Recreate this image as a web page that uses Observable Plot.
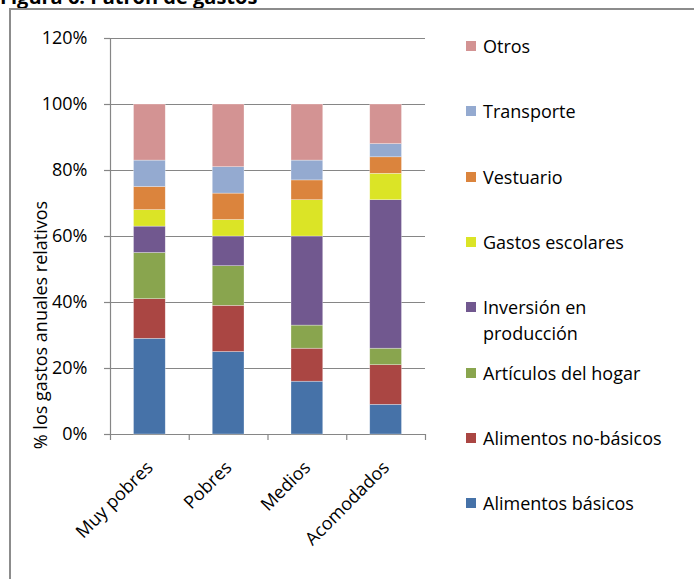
<!DOCTYPE html>
<html>
<head>
<meta charset="utf-8">
<script src="https://cdn.jsdelivr.net/npm/d3@7"></script>
<script src="https://cdn.jsdelivr.net/npm/@observablehq/plot@0.6"></script>
<style>
  html, body { margin: 0; padding: 0; background: #fff; overflow: hidden; }
  #wrap { position: relative; width: 694px; height: 579px; overflow: hidden; font-family: "Open Sans", sans-serif; color: #000; }
  #title { position: absolute; left: 0; top: -13px; font-weight: bold; font-size: 20px; line-height: 20px; white-space: nowrap; }
  #box { position: absolute; left: 9px; top: 8px; width: 720px; height: 620px; border: 2px solid #8c8c8c; box-sizing: border-box; }
  #chart { position: absolute; left: 0; top: 0; }
  #ylabel { position: absolute; left: 40px; top: 325px; transform: translate(-50%, -50%) rotate(-90deg); font-size: 18px; white-space: nowrap; }
  .leg { position: absolute; left: 466px; font-size: 18px; line-height: 26px; width: 200px; }
  .leg .sw { position: absolute; left: 0; top: 8px; width: 10px; height: 10px; }
  .leg .tx { position: absolute; left: 17px; width: 192px; }
</style>
</head>
<body>
<div id="wrap">
  <div id="title">Figura 6: Patrón de gastos</div>
  <div id="box"></div>
  <div id="chart"></div>
  <div id="ylabel">% los gastos anuales relativos</div>
  <div id="legend"></div>
</div>
<script>
// ---- Data ----
const categories = ["Muy pobres", "Pobres", "Medios", "Acomodados"];
const seriesNames = [
  "Alimentos básicos",
  "Alimentos no-básicos",
  "Artículos del hogar",
  "Inversión en producción",
  "Gastos escolares",
  "Vestuario",
  "Transporte",
  "Otros"
];
const alimentosBasicos   = [29, 25, 16, 9];
const alimentosNoBasicos = [12, 14, 10, 12];
const articulosHogar     = [14, 12, 7, 5];
const inversionProduccion= [8, 9, 27, 45];
const gastosEscolares    = [5, 5, 11, 8];
const vestuario          = [7, 8, 6, 5];
const transporte         = [8, 8, 6, 4];
const otros              = [17, 19, 17, 12];
const yTicks = [0, 20, 40, 60, 80, 100, 120];
const seriesColors = ["#4672A8", "#AA4643", "#89A54E", "#71588F", "#DBE426", "#DB843D", "#94AAD0", "#D39393"];

// ---- Build table ----
const seriesValues = [alimentosBasicos, alimentosNoBasicos, articulosHogar, inversionProduccion,
  gastosEscolares, vestuario, transporte, otros];
const rows = [];
categories.forEach((c, i) => {
  let acc = 0;
  seriesNames.forEach((s, k) => {
    const v = seriesValues[k][i];
    rows.push({i, category: c, series: s, value: v, y1: acc, y2: acc + v});
    acc += v;
  });
});

const gray = "#868686";
const chart = Plot.plot({
  width: 694,
  height: 579,
  marginLeft: 110,
  marginRight: 269,
  marginTop: 38,
  marginBottom: 145,
  style: {background: "transparent", fontFamily: "Open Sans, sans-serif", fontSize: "18px", color: "#000", overflow: "visible"},
  x: {type: "linear", domain: [0, 4], axis: null},
  y: {domain: [0, 120], axis: null},
  color: {domain: seriesNames, range: seriesColors},
  marks: [
    Plot.gridY(yTicks, {stroke: gray, strokeOpacity: 1, strokeWidth: 1.2}),
    Plot.ruleX([0], {y1: 0, y2: 120, stroke: gray, strokeWidth: 1.2}),
    Plot.axisY({ticks: yTicks, tickSize: 6, tickPadding: 17, stroke: gray, strokeWidth: 1.2,
      tickFormat: d => d + "%", fill: "#000", label: null}),
    Plot.axisX({ticks: [0, 1, 2, 3, 4], tickSize: 6, stroke: gray, strokeWidth: 1.2, tickFormat: () => "", label: null}),
    Plot.axisX({ticks: [0.5, 1.5, 2.5, 3.5], tickSize: 0, tickPadding: 30, tickRotate: -45,
      tickFormat: d => categories[Math.floor(d)], fill: "#000", label: null}),
    Plot.rect(rows, {x1: "i", x2: d => d.i + 1, y1: "y1", y2: "y2", fill: "series",
      insetLeft: 23.5, insetRight: 23.5, stroke: "#ffffff", strokeOpacity: 0.5, strokeWidth: 0.6})
  ]
});
document.getElementById("chart").appendChild(chart);

// ---- Legend (top to bottom = reverse stacking order) ----
const legend = document.getElementById("legend");
const legendOrder = seriesNames.slice().reverse();
legendOrder.forEach((name, j) => {
  const item = document.createElement("div");
  item.className = "leg";
  item.style.top = (46 + j * 65.3 - 13) + "px";
  const sw = document.createElement("div");
  sw.className = "sw";
  sw.style.background = seriesColors[seriesNames.indexOf(name)];
  const tx = document.createElement("div");
  tx.className = "tx";
  tx.textContent = name;
  item.appendChild(sw);
  item.appendChild(tx);
  legend.appendChild(item);
});
</script>
</body>
</html>
